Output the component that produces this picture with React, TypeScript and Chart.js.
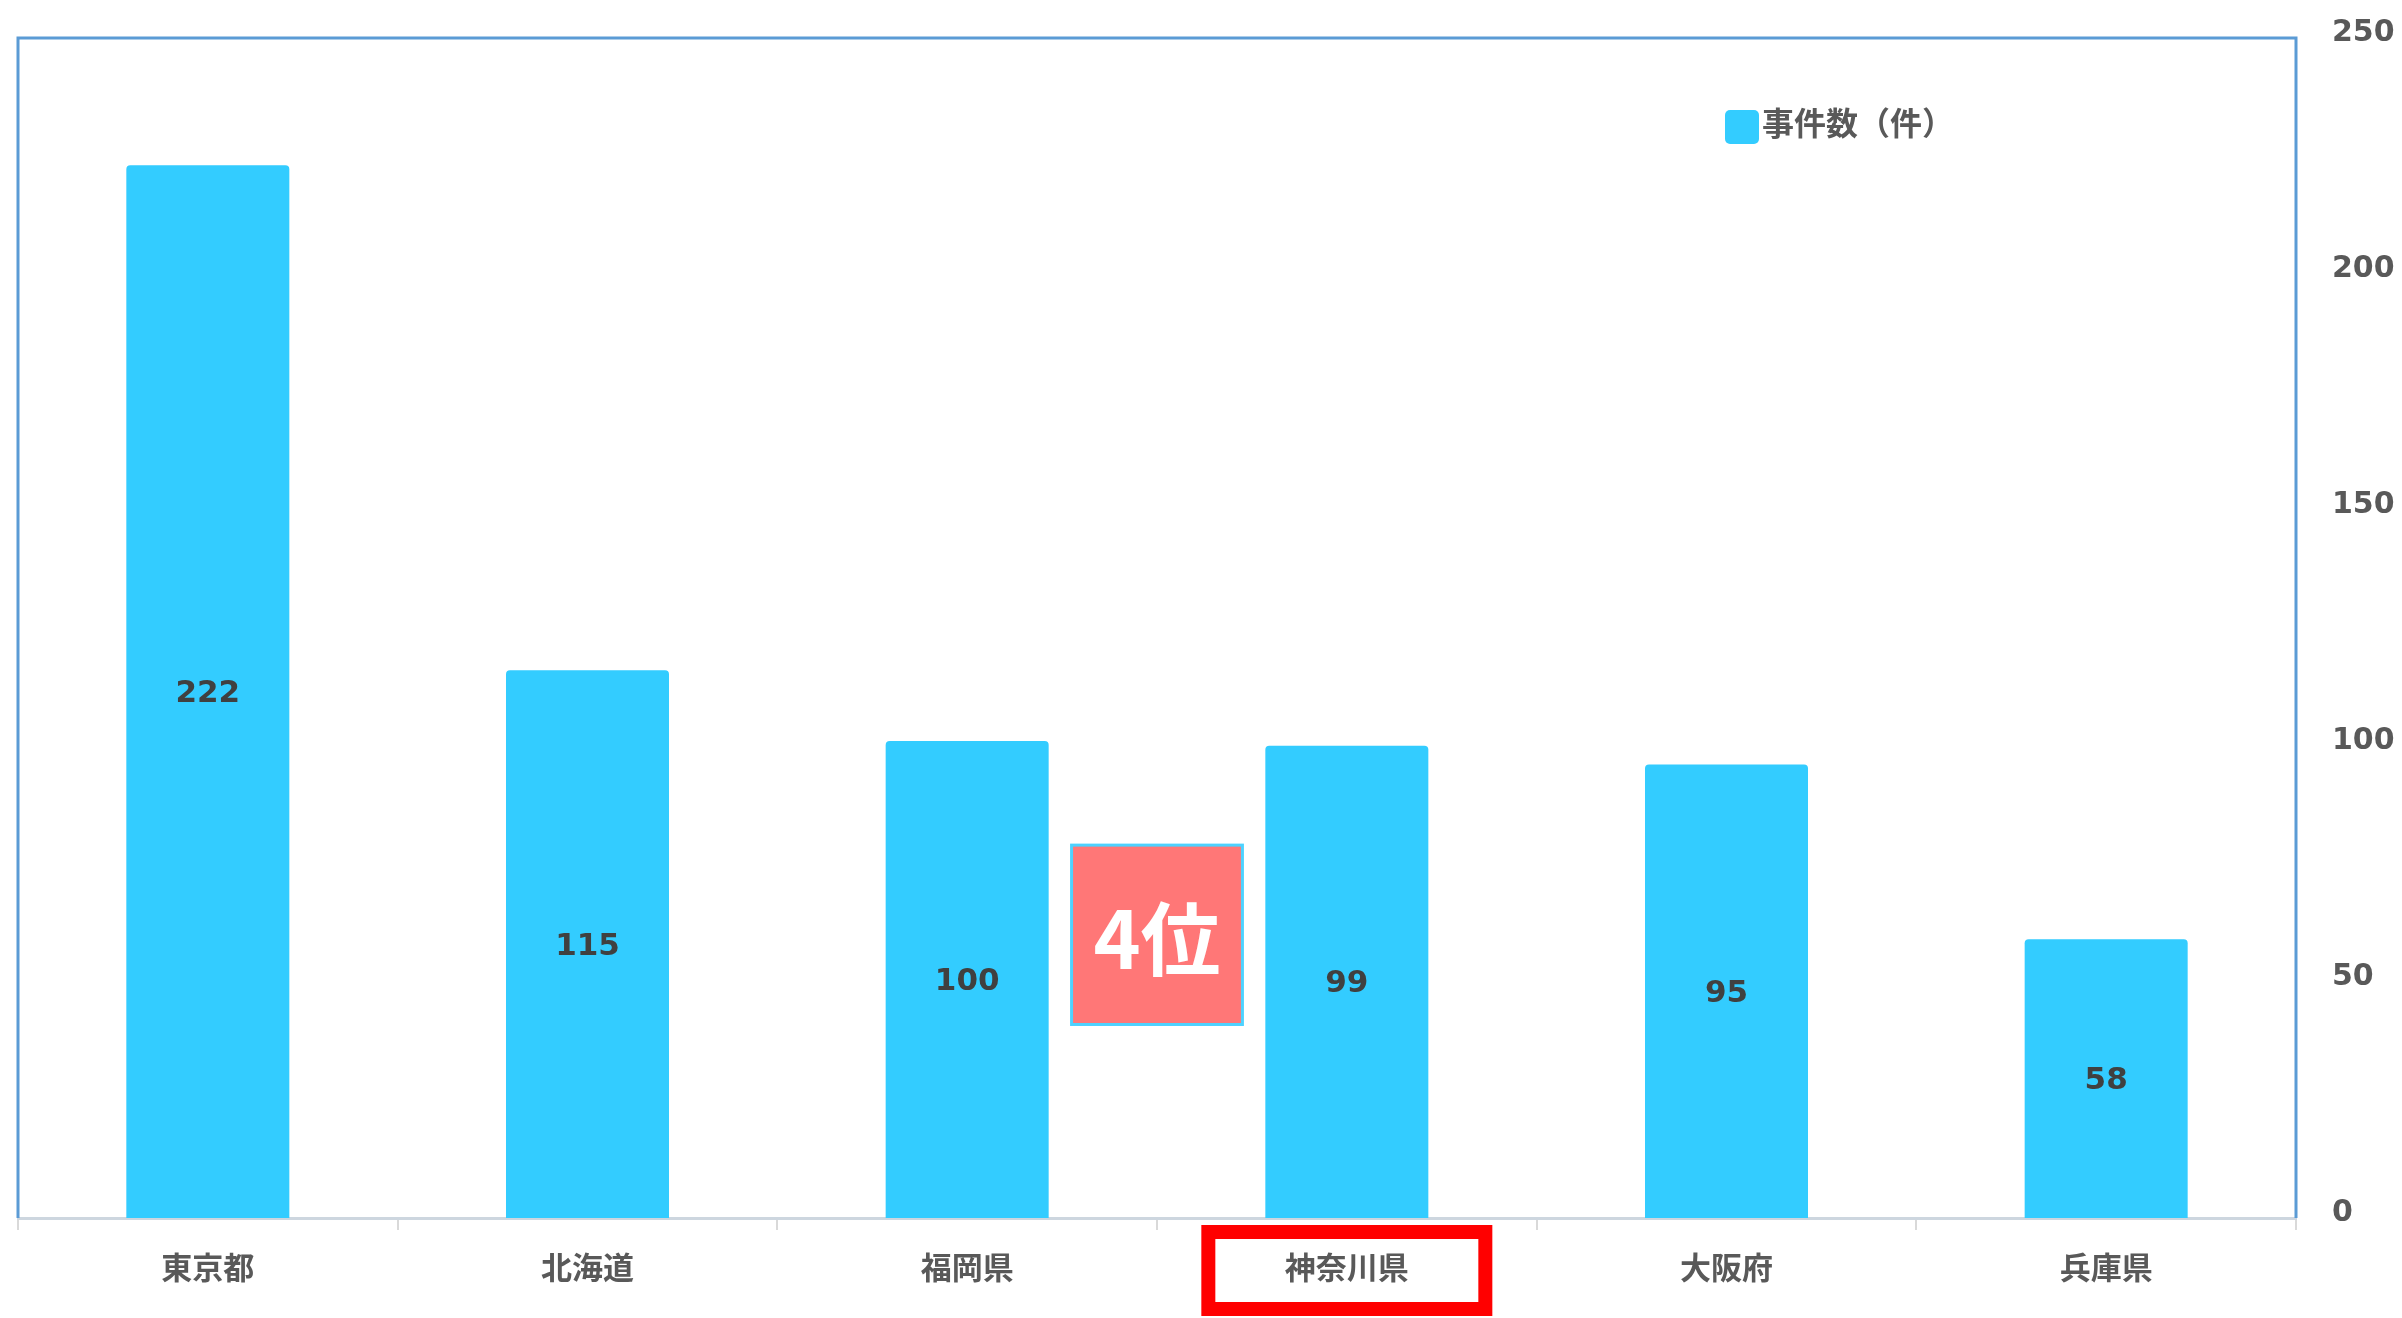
import React, { useEffect, useRef } from "react";
import { Chart, registerables } from "chart.js";

Chart.register(...registerables);

// ---- data ----
const categories = ["東京都", "北海道", "福岡県", "神奈川県", "大阪府", "兵庫県"];
const seriesName = "事件数（件）";
const counts = [222, 115, 100, 99, 95, 58];
const yMin = 0;
const yMax = 250;
const yStep = 50;
const highlightIndex = 3;
const rankLabel = "4位";
// annotation box in data units: category-index range and value range
const rankBoxIndex = [2.275, 2.725];
const rankBoxValue = [41, 79];

const BAR_COLOR = "#33CCFF";
const TEXT_GRAY = "#595959";
const CJK = "'Noto Sans CJK JP', 'Noto Sans', sans-serif";
const NUM = "'DejaVu Sans', Verdana, sans-serif";

const framePlugin = {
  id: "frame",
  beforeDatasetsDraw(chart: any) {
    const { ctx, chartArea: a } = chart;
    ctx.save();
    ctx.strokeStyle = "#5B9BD5";
    ctx.lineWidth = 3;
    ctx.beginPath();
    ctx.moveTo(a.left, a.bottom);
    ctx.lineTo(a.left, a.top);
    ctx.lineTo(a.right, a.top);
    ctx.lineTo(a.right, a.bottom);
    ctx.stroke();
    ctx.restore();
  },
};

const labelsPlugin = {
  id: "barLabels",
  afterDatasetsDraw(chart: any) {
    const { ctx } = chart;
    const meta = chart.getDatasetMeta(0);
    ctx.save();
    ctx.font = `bold 31px ${NUM}`;
    ctx.fillStyle = "#404040";
    ctx.textAlign = "center";
    ctx.textBaseline = "middle";
    meta.data.forEach((bar: any, i: number) => {
      const v = chart.data.datasets[0].data[i];
      ctx.fillText(String(v), bar.x, (bar.y + bar.base) / 2);
    });
    ctx.restore();
  },
};

const annotationPlugin = {
  id: "annotations",
  afterDraw(chart: any) {
    const { ctx, chartArea: a } = chart;
    const xs = chart.scales.x;
    const ys = chart.scales.y;
    const step = xs.getPixelForValue(1) - xs.getPixelForValue(0);
    const idxToPx = (f: number) => xs.getPixelForValue(0) + f * step;

    // rank box
    const x1 = idxToPx(rankBoxIndex[0]);
    const x2 = idxToPx(rankBoxIndex[1]);
    const y1 = ys.getPixelForValue(rankBoxValue[1]);
    const y2 = ys.getPixelForValue(rankBoxValue[0]);
    ctx.save();
    ctx.fillStyle = "#FF7777";
    ctx.fillRect(x1, y1, x2 - x1, y2 - y1);
    ctx.strokeStyle = "#4DD2FF";
    ctx.lineWidth = 3;
    ctx.strokeRect(x1, y1, x2 - x1, y2 - y1);
    ctx.fillStyle = "#FFFFFF";
    ctx.font = `bold 80px ${CJK}`;
    ctx.textAlign = "center";
    ctx.textBaseline = "middle";
    ctx.fillText(rankLabel, (x1 + x2) / 2, (y1 + y2) / 2 + 4);

    // red highlight around category label
    const cx = xs.getPixelForValue(highlightIndex);
    ctx.strokeStyle = "#FF0000";
    ctx.lineWidth = 14;
    ctx.strokeRect(cx - 138.5, a.bottom + 14, 277, 77);

    // legend
    ctx.fillStyle = BAR_COLOR;
    const lx = 1725;
    const ly = 110;
    ctx.beginPath();
    (ctx as any).roundRect(lx, ly, 34, 34, 5);
    ctx.fill();
    ctx.fillStyle = TEXT_GRAY;
    ctx.font = `bold 32px ${CJK}`;
    ctx.textAlign = "left";
    ctx.textBaseline = "middle";
    ctx.fillText(seriesName, lx + 37, ly + 13);
    ctx.restore();
  },
};

export default function App() {
  const ref = useRef<HTMLCanvasElement | null>(null);
  useEffect(() => {
    if (!ref.current) return;
    const chart = new Chart(ref.current, {
      type: "bar",
      data: {
        labels: categories,
        datasets: [
          {
            label: seriesName,
            data: counts,
            backgroundColor: BAR_COLOR,
            borderRadius: 4,
            inflateAmount: 5,
            categoryPercentage: 1,
            barPercentage: 0.403,
          },
        ],
      },
      options: {
        animation: false,
        responsive: true,
        maintainAspectRatio: false,
        layout: { padding: { left: 18, top: 38, right: 0, bottom: 0 } },
        plugins: {
          legend: { display: false },
          tooltip: { enabled: false },
        },
        scales: {
          x: {
            offset: true,
            grid: {
              display: true,
              drawOnChartArea: false,
              drawTicks: true,
              tickLength: 12,
              color: "#D9D9D9",
              lineWidth: 2,
              offset: true,
            },
            border: { display: true, color: "#CDD6DF", width: 3 },
            ticks: {
              color: TEXT_GRAY,
              font: { family: CJK, size: 31, weight: "bold" },
              padding: 19,
              maxRotation: 0,
            },
            afterFit: (s: any) => {
              s.height = 100;
              s.paddingLeft = 0;
              s.paddingRight = 0;
            },
          },
          y: {
            position: "right",
            min: yMin,
            max: yMax,
            grid: { display: false, drawTicks: false },
            border: { display: false },
            ticks: {
              stepSize: yStep,
              padding: 36,
              labelOffset: -5,
              color: TEXT_GRAY,
              font: { family: NUM, size: 30, weight: "bold" },
            },
            afterFit: (s: any) => {
              s.width = 106;
              s.paddingTop = 0;
              s.paddingBottom = 0;
            },
          },
        },
      },
      plugins: [framePlugin, labelsPlugin, annotationPlugin],
    });
    return () => chart.destroy();
  }, []);

  return (
    <div style={{ position: "fixed", left: 0, top: 0, width: 2402, height: 1318, background: "#fff" }}>
      <canvas ref={ref} />
    </div>
  );
}
